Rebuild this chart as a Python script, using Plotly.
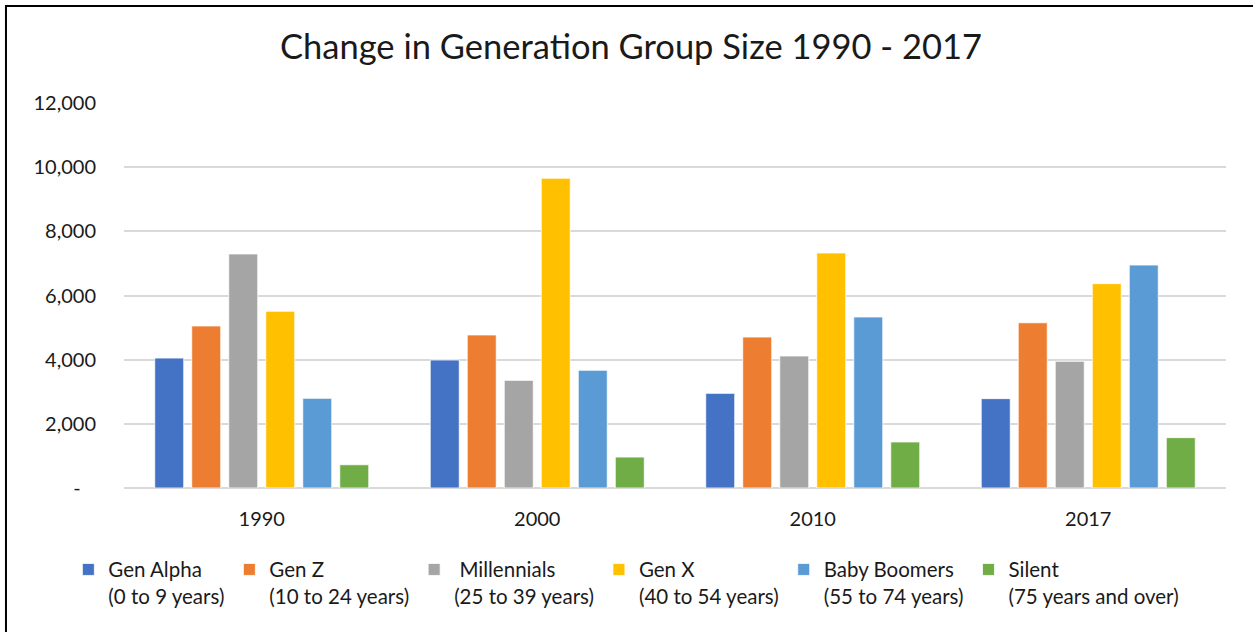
import plotly.graph_objects as go

# data (thousands of people)
years = ["1990", "2000", "2010", "2017"]
gen_alpha = [4050, 3990, 2950, 2785]
gen_z = [5050, 4770, 4705, 5150]
millennials = [7295, 3355, 4115, 3950]
gen_x = [5510, 9655, 7325, 6370]
boomers = [2795, 3670, 5330, 6950]
silent = [725, 965, 1435, 1570]

series_names = [
    "Gen Alpha<br>(0 to 9 years)",
    "Gen Z<br>(10 to 24 years)",
    " Millennials<br>(25 to 39 years)",
    "Gen X<br>(40 to 54 years)",
    "Baby Boomers<br>(55 to 74 years)",
    "Silent<br>(75 years and over)",
]
colors = ["#4472C4", "#ED7D31", "#A5A5A5", "#FFC000", "#5B9BD5", "#70AD47"]

y_ticks = [0, 2000, 4000, 6000, 8000, 10000, 12000]
y_labels = ["-\u00a0\u00a0\u00a0", "2,000", "4,000", "6,000", "8,000", "10,000", "12,000"]

FONT = "Lato, 'Open Sans', sans-serif"

fig = go.Figure()
for name, vals, col in zip(series_names,
                           [gen_alpha, gen_z, millennials, gen_x, boomers, silent],
                           colors):
    fig.add_trace(go.Bar(x=years, y=vals, name=name,
                         marker=dict(color=col, line=dict(color="white", width=0.8))))

fig.update_layout(
    width=1253, height=632,
    margin=dict(l=124, r=27, t=103, b=144),
    paper_bgcolor="white", plot_bgcolor="white",
    font=dict(family=FONT, size=20, color="#1a1a1a"),
    title=dict(text="Change in Generation Group Size 1990 - 2017",
               x=0.5036, xanchor="center", y=0.9256, yanchor="middle",
               font=dict(family=FONT, size=34.5, color="#1a1a1a")),
    barmode="group", bargap=0.194, bargroupgap=0.216,
    showlegend=True,
    legend=dict(orientation="h", x=-0.0505, xanchor="left", y=-0.16, yanchor="top",
                valign="top", font=dict(family=FONT, size=20.5, color="#1a1a1a"),
                itemwidth=30, tracegroupgap=0, traceorder="normal"),
    xaxis=dict(showgrid=False, showline=False, ticks="", ticklabelstandoff=17,
               tickfont=dict(size=20)),
    yaxis=dict(range=[0, 12000], tickvals=y_ticks, ticktext=y_labels,
               showgrid=True, gridcolor="#d9d9d9", gridwidth=1.5,
               zeroline=True, zerolinecolor="#d9d9d9", zerolinewidth=2,
               ticks="", ticklabelstandoff=27, tickfont=dict(size=20)),
)

# outer chart border (top and left visible; right/bottom run off the image)
fig.add_shape(type="rect", xref="paper", yref="paper",
              x0=-0.1071, x1=1.04, y0=-0.45, y1=1.2519,
              line=dict(color="black", width=2), fillcolor="rgba(0,0,0,0)")

# drop the default body margin so the figure fills the window exactly
fig.write_html("out.html", config={"displayModeBar": False},
               post_script="document.body.style.margin='0';")
